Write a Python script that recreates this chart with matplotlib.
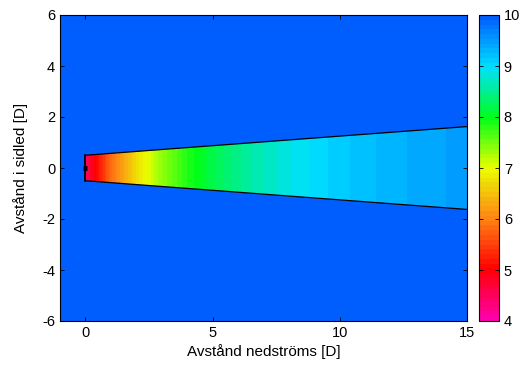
import numpy as np
import matplotlib
matplotlib.use("Agg")
import matplotlib.pyplot as plt
from matplotlib.colors import LinearSegmentedColormap
from matplotlib.patches import Polygon

plt.rcParams['font.family'] = ['Liberation Sans', 'DejaVu Sans']
plt.rcParams['font.size'] = 10.5
plt.rcParams['axes.unicode_minus'] = False

# Data
stations_x = [0, 1, 2, 3, 4, 5, 6, 7, 8, 9, 10, 11, 12, 13, 14, 15]      # distance downstream [D]
wake_speed = [4.5, 5.84, 6.75, 7.38, 7.85, 8.20, 8.48, 8.69, 8.86, 9.00,
              9.12, 9.22, 9.30, 9.37, 9.43, 9.48]                          # m/s in wake
free_speed = 10.0
edge_x = [0, 15]
edge_halfwidth = [0.5, 1.625]
xticks = [0, 5, 10, 15]
yticks = [-6, -4, -2, 0, 2, 4, 6]
cticks = [4, 5, 6, 7, 8, 9, 10]

cmap_nodes = [(0.0, (1.0, 0.0, 0.67)),
              (1/6, (1.0, 0.0, 0.0)),
              (2/6, (1.0, 0.52, 0.08)),
              (3/6, (0.92, 1.0, 0.0)),
              (4/6, (0.0, 1.0, 0.1)),
              (5/6, (0.0, 0.88, 1.0)),
              (1.0, (0.0, 0.37, 1.0))]
cmap = LinearSegmentedColormap.from_list('wake', cmap_nodes, N=64)
vmin, vmax = 4, 10

fig = plt.figure(figsize=(5.23, 3.66), dpi=100)
ax = fig.add_axes([60/523, 1-321/366, 407/523, 306/366])
cax = fig.add_axes([479/523, 1-321/366, 20/523, 306/366])

ax.set_facecolor(cmap((free_speed - vmin) / (vmax - vmin)))
ax.set_xlim(-1, 15)
ax.set_ylim(-6, 6)

dx = stations_x[1] - stations_x[0]
img = ax.imshow(np.array([wake_speed]), cmap=cmap, vmin=vmin, vmax=vmax,
                extent=[stations_x[0] - dx/2, stations_x[-1] + dx/2, -2, 2],
                aspect='auto', interpolation='bilinear', interpolation_stage='data',
                origin='lower', zorder=1)

poly_pts = [(edge_x[0], -edge_halfwidth[0]), (edge_x[1], -edge_halfwidth[1]),
            (edge_x[1], edge_halfwidth[1]), (edge_x[0], edge_halfwidth[0])]
clip = Polygon(poly_pts, closed=True, transform=ax.transData, facecolor='none', edgecolor='none')
ax.add_patch(clip)
img.set_clip_path(clip)

ax.plot([edge_x[0], edge_x[1]], [edge_halfwidth[0], edge_halfwidth[1]], color='k', lw=0.9, zorder=3)
ax.plot([edge_x[0], edge_x[1]], [-edge_halfwidth[0], -edge_halfwidth[1]], color='k', lw=0.9, zorder=3)
ax.plot([edge_x[0], edge_x[0]], [-edge_halfwidth[0], edge_halfwidth[0]], color='k', lw=1.3, zorder=3)
ax.plot([-0.1, 0.05], [0, 0], color='k', lw=3.5, zorder=3, solid_capstyle='butt')

ax.set_xticks(xticks)
ax.set_yticks(yticks)
ax.tick_params(direction='in', top=True, right=True, length=3, width=0.6, labelsize=10.5)
for s in ax.spines.values():
    s.set_linewidth(0.8)
ax.set_xlabel('Avstånd nedströms [D]', fontsize=11, labelpad=3)
ax.set_ylabel('Avstånd i sidled [D]', fontsize=11, labelpad=10)

cb = fig.colorbar(img, cax=cax, ticks=cticks)
cb.outline.set_linewidth(0.8)
cax.tick_params(direction='in', left=True, right=True, length=3, width=0.6, labelsize=10.5)

fig.savefig('out.png', dpi=100)
